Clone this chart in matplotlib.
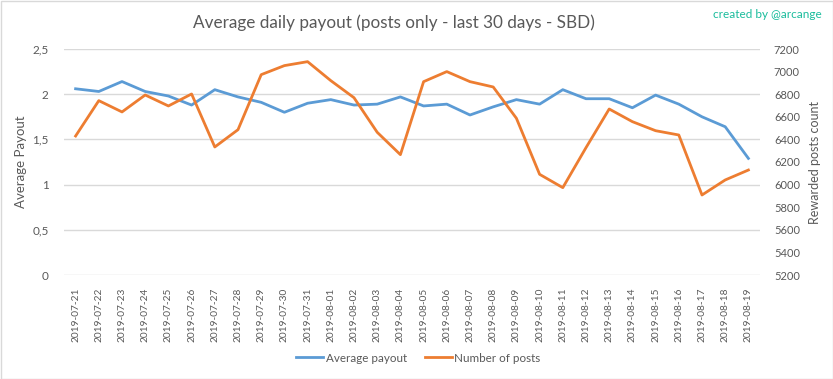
import matplotlib
matplotlib.use("Agg")
import matplotlib.pyplot as plt
from matplotlib.lines import Line2D

dates = ["2019-07-21", "2019-07-22", "2019-07-23", "2019-07-24", "2019-07-25", "2019-07-26",
         "2019-07-27", "2019-07-28", "2019-07-29", "2019-07-30", "2019-07-31", "2019-08-01",
         "2019-08-02", "2019-08-03", "2019-08-04", "2019-08-05", "2019-08-06", "2019-08-07",
         "2019-08-08", "2019-08-09", "2019-08-10", "2019-08-11", "2019-08-12", "2019-08-13",
         "2019-08-14", "2019-08-15", "2019-08-16", "2019-08-17", "2019-08-18", "2019-08-19"]
avg_payout = [2.06, 2.03, 2.14, 2.03, 1.98, 1.88, 2.05, 1.97, 1.91, 1.80, 1.90, 1.94,
              1.88, 1.89, 1.97, 1.87, 1.89, 1.77, 1.86, 1.94, 1.89, 2.05, 1.95, 1.95,
              1.85, 1.99, 1.89, 1.75, 1.64, 1.29]
num_posts = [6430, 6743, 6643, 6793, 6696, 6802, 6333, 6486, 6973, 7053, 7088, 6920,
             6769, 6463, 6265, 6911, 7000, 6911, 6864, 6587, 6091, 5973, 6327, 6669,
             6557, 6477, 6439, 5908, 6041, 6129]
left_ticks = [0, 0.5, 1, 1.5, 2, 2.5]
left_labels = ["0", "0,5", "1", "1,5", "2", "2,5"]
right_ticks = [5200, 5400, 5600, 5800, 6000, 6200, 6400, 6600, 6800, 7000, 7200]

FONT = ["Lato", "DejaVu Sans"]
plt.rcParams["font.family"] = FONT
GRAY = "#595959"
BLUE = "#5B9BD5"
ORANGE = "#ED7D31"

fig = plt.figure(figsize=(8.33, 3.79), dpi=100)
ax = fig.add_axes([64/833, 1-275/379, (760-64)/833, (275-49)/379])
ax2 = ax.twinx()

x = list(range(len(dates)))
ax.plot(x, avg_payout, color=BLUE, lw=2, solid_joinstyle="round")
ax2.plot(x, num_posts, color=ORANGE, lw=2, solid_joinstyle="round")

ax.set_xlim(-0.5, len(dates) - 0.5)
ax.set_ylim(0, 2.5)
ax2.set_ylim(5200, 7200)
ax.set_yticks(left_ticks)
ax.set_yticklabels(left_labels)
ax2.set_yticks(right_ticks)
ax.set_xticks(x)
ax.set_xticklabels(dates, rotation=90, fontsize=7.3)

for a in (ax, ax2):
    for s in a.spines.values():
        s.set_visible(False)
    a.tick_params(length=0, colors=GRAY)
ax.tick_params(axis="y", pad=11, labelsize=8.5)
ax2.tick_params(axis="y", pad=10, labelsize=8)
ax.tick_params(axis="x", pad=9)
ax.grid(axis="y", color="#D9D9D9", lw=1)
ax.set_axisbelow(True)

ax.set_ylabel("Average Payout", color=GRAY, fontsize=9.5)
ax.yaxis.set_label_coords((27-64)/696, 0.5)
ax2.set_ylabel("Rewarded posts count", color=GRAY, fontsize=9, rotation=90)
ax2.yaxis.set_label_coords((809-64)/696, 0.5)

fig.text(393.5/833, 1-23/379, "Average daily payout (posts only - last 30 days - SBD)",
         ha="center", va="center", color=GRAY, fontsize=12.3)
fig.text(822/833, 1-14/379, "created by @arcange", ha="right", va="center",
         color="#1ABC9C", fontsize=8.5)

handles = [Line2D([], [], color=BLUE, lw=2), Line2D([], [], color=ORANGE, lw=2)]
fig.legend(handles, ["Average payout", "Number of posts"], loc="center",
           bbox_to_anchor=(418.5/833, 1-358/379), ncol=2, frameon=False, fontsize=8.4,
           labelcolor=GRAY, handlelength=2.3, handletextpad=0.25, columnspacing=1.5,
           borderpad=0, borderaxespad=0)

border = plt.Rectangle((0.5/833, 0.5/379), 1-1/833, 1-1/379, transform=fig.transFigure,
                       fill=False, edgecolor="#D9D9D9", lw=1)
fig.add_artist(border)

fig.savefig("out.png", dpi=100)
